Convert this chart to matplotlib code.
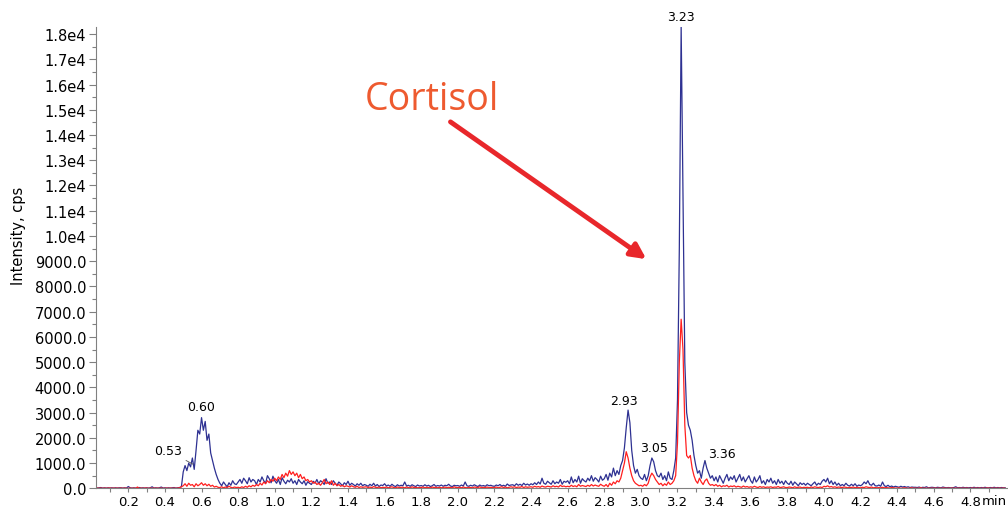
import matplotlib
matplotlib.use('Agg')
import matplotlib.pyplot as plt
import numpy as np

# Retention time grid (min), one reading every 0.01 min
time_start = 0.0
time_step = 0.01

# Blue trace (cps), one row per 0.1 min
blue_cps = [
    20, 10, 20, 10, 20, 30, 10, 20, 10, 20,
    10, 20, 10, 20, 10, 20, 20, 10, 20, 10,
    70, 20, 10, 20, 10, 20, 30, 10, 20, 10,
    20, 10, 20, 60, 10, 20, 10, 20, 50, 10,
    20, 10, 20, 10, 20, 30, 10, 20, 30, 60,
    650, 900, 700, 1000, 850, 1200, 750, 1500, 2300, 2150,
    2800, 2300, 2650, 1900, 2150, 1400, 1100, 800, 550, 350,
    200, 100, 250, 150, 60, 220, 120, 300, 180, 150,
    250, 350, 200, 400, 300, 180, 420, 250, 350, 300,
    150, 350, 250, 450, 300, 200, 500, 380, 220, 480,
    300, 200, 350, 150, 420, 280, 180, 320, 250, 380,
    200, 300, 150, 350, 250, 180, 300, 120, 260, 200,
    150, 280, 200, 350, 180, 300, 250, 150, 380, 200,
    250, 150, 300, 200, 120, 250, 180, 100, 220, 150,
    280, 120, 200, 150, 90, 180, 120, 200, 100, 150,
    120, 80, 160, 100, 200, 90, 150, 70, 130, 110,
    180, 90, 130, 80, 160, 100, 70, 140, 90, 120,
    100, 250, 90, 120, 80, 140, 100, 70, 130, 90,
    110, 80, 140, 90, 120, 70, 100, 150, 80, 110,
    90, 130, 80, 120, 100, 160, 90, 70, 120, 100,
    110, 80, 130, 90, 250, 100, 80, 120, 90, 140,
    100, 70, 130, 90, 110, 80, 140, 100, 120, 90,
    80, 130, 100, 150, 90, 120, 80, 170, 110, 130,
    140, 100, 180, 120, 160, 110, 200, 130, 170, 120,
    180, 140, 220, 150, 250, 170, 400, 200, 160, 280,
    220, 160, 300, 180, 250, 200, 350, 160, 280, 240,
    300, 180, 450, 220, 350, 250, 480, 200, 380, 300,
    250, 400, 300, 500, 280, 420, 350, 250, 480, 320,
    380, 550, 320, 600, 450, 800, 500, 700, 550, 900,
    1100, 1600, 2400, 3100, 2600, 1500, 900, 600, 750, 500,
    400, 350, 550, 300, 500, 900, 1200, 1050, 700, 500,
    450, 600, 350, 500, 300, 650, 400, 350, 700, 1200,
    3500, 9500, 18300, 11500, 5000, 3000, 2500, 2300, 1900, 1300,
    900, 600, 700, 400, 800, 1100, 800, 600, 400, 500,
    300, 450, 250, 500, 350, 200, 400, 550, 300, 450,
    350, 500, 250, 400, 550, 300, 450, 250, 380, 500,
    300, 200, 450, 250, 350, 500, 200, 300, 150, 350,
    250, 400, 200, 300, 150, 350, 200, 280, 150, 300,
    200, 150, 280, 120, 250, 180, 100, 220, 150, 200,
    120, 200, 150, 100, 180, 250, 120, 200, 150, 280,
    350, 250, 400, 180, 300, 150, 250, 120, 200, 100,
    150, 100, 200, 120, 90, 160, 100, 180, 80, 130,
    100, 150, 250, 180, 300, 150, 120, 200, 100, 90,
    130, 80, 250, 100, 70, 120, 60, 90, 50, 80,
    60, 40, 80, 50, 70, 40, 60, 30, 50, 40,
    40, 30, 50, 20, 40, 30, 60, 20, 30, 40,
    30, 20, 40, 30, 20, 50, 30, 20, 30, 20,
    20, 30, 60, 20, 30, 20, 40, 20, 30, 20,
    30, 20, 40, 20, 30, 20, 30, 20, 40, 20,
    20, 30, 20, 40, 20, 30, 20, 30, 20, 20,
]

# Red trace (cps), one row per 0.1 min
red_cps = [
    0, 10, 0, 10, 0, 10, 0, 10, 0, 10,
    10, 0, 10, 0, 10, 0, 10, 0, 10, 0,
    0, 10, 0, 10, 0, 50, 0, 10, 0, 10,
    10, 0, 10, 0, 10, 0, 10, 0, 10, 0,
    0, 10, 0, 10, 0, 10, 0, 10, 20, 60,
    100, 180, 80, 200, 120, 150, 60, 180, 100, 150,
    220, 120, 180, 100, 160, 80, 120, 50, 80, 40,
    30, 60, 20, 50, 30, 80, 40, 20, 50, 30,
    40, 20, 60, 30, 80, 40, 100, 60, 120, 80,
    150, 100, 200, 130, 250, 180, 300, 220, 350, 280,
    400, 300, 450, 350, 550, 420, 600, 480, 700, 550,
    650, 500, 600, 420, 550, 380, 450, 300, 350, 250,
    300, 200, 250, 150, 200, 120, 220, 350, 180, 250,
    150, 300, 120, 200, 100, 150, 80, 120, 60, 100,
    80, 50, 100, 60, 40, 80, 30, 60, 40, 50,
    60, 30, 50, 20, 70, 40, 30, 50, 20, 40,
    30, 50, 20, 40, 60, 30, 20, 50, 30, 40,
    40, 20, 50, 30, 20, 60, 30, 40, 20, 30,
    30, 50, 20, 40, 30, 20, 50, 30, 40, 20,
    40, 20, 30, 50, 20, 40, 30, 20, 60, 30,
    30, 40, 20, 50, 30, 20, 40, 30, 20, 50,
    40, 30, 60, 20, 40, 30, 50, 20, 40, 30,
    30, 50, 20, 40, 60, 30, 50, 20, 40, 60,
    40, 60, 30, 50, 40, 70, 30, 60, 40, 50,
    60, 40, 80, 50, 70, 40, 90, 60, 50, 80,
    70, 50, 100, 60, 80, 50, 120, 70, 90, 60,
    80, 60, 120, 70, 100, 60, 150, 80, 110, 90,
    70, 120, 80, 150, 90, 130, 100, 80, 160, 110,
    80, 150, 60, 200, 120, 250, 180, 300, 250, 400,
    700, 1000, 1450, 1200, 800, 500, 300, 200, 150, 100,
    120, 80, 150, 100, 200, 450, 600, 500, 350, 250,
    150, 200, 100, 180, 120, 250, 150, 200, 300, 500,
    1800, 5000, 6700, 5500, 2500, 1300, 1200, 1300, 800, 500,
    300, 200, 400, 250, 150, 300, 370, 200, 120, 150,
    100, 150, 80, 120, 60, 100, 80, 120, 50, 90,
    70, 100, 50, 80, 60, 40, 90, 50, 70, 40,
    60, 40, 80, 50, 30, 70, 40, 60, 30, 50,
    40, 60, 30, 50, 40, 70, 30, 40, 60, 30,
    30, 50, 40, 20, 60, 30, 40, 50, 20, 40,
    30, 40, 20, 50, 30, 60, 40, 30, 50, 30,
    80, 60, 100, 50, 70, 40, 60, 30, 50, 40,
    30, 50, 40, 20, 40, 30, 50, 20, 40, 30,
    20, 40, 30, 60, 40, 30, 50, 20, 30, 20,
    30, 20, 40, 20, 30, 20, 10, 30, 20, 10,
    10, 20, 0, 10, 20, 10, 0, 10, 20, 0,
    10, 0, 10, 20, 0, 10, 0, 10, 0, 10,
    0, 10, 0, 10, 0, 10, 10, 0, 10, 0,
    10, 0, 10, 0, 10, 0, 10, 0, 10, 0,
    0, 10, 0, 10, 0, 10, 0, 10, 0, 10,
    10, 0, 10, 0, 10, 0, 10, 0, 10, 0,
]

# Peak labels: (text, label x, label y, leader target or None)
peak_labels = [
    ('0.53', 0.417, 1480, (0.555, 950)),
    ('0.60', 0.598, 3230, None),
    ('2.93', 2.909, 3460, None),
    ('3.05', 3.073, 1600, None),
    ('3.36', 3.444, 1360, (3.352, 1050)),
    ('3.23', 3.221, 18700, None),
]

y_ticks = np.arange(0, 18001, 1000)
y_tick_labels = [f'{v / 1e4:.1f}e4' if v >= 10000 else f'{v:.1f}' for v in y_ticks]
x_ticks = np.arange(0.2, 4.81, 0.2)

times = time_start + time_step * np.arange(len(blue_cps))

fig = plt.figure(figsize=(10.08, 5.10), dpi=100)
ax = fig.add_axes([96 / 1008, 1 - 489.3 / 510, 911 / 1008, 461.3 / 510])

ax.plot(times, blue_cps, color='#2e3192', linewidth=0.9)
ax.plot(times, red_cps, color='#ff1f1f', linewidth=0.9)

ax.set_xlim(0.0235, 5.0)
ax.set_ylim(0, 18280)

# Axes styling
for side in ['top', 'right']:
    ax.spines[side].set_visible(False)
for side in ['left', 'bottom']:
    ax.spines[side].set_color('#808080')
    ax.spines[side].set_linewidth(0.8)

ax.set_yticks(y_ticks)
ax.set_yticklabels(y_tick_labels, fontsize=10.5)
ax.set_yticks(np.arange(500, 18001, 1000), minor=True)
ax.set_xticks(x_ticks)
ax.set_xticklabels([f'{v:.1f}' for v in x_ticks], fontsize=9.5)
ax.set_xticks(np.arange(0.1, 5.0, 0.2), minor=True)
ax.tick_params(axis='both', which='both', color='#808080', width=0.8, pad=2)
ax.tick_params(axis='y', which='major', length=5)
ax.tick_params(axis='y', which='minor', length=3)
ax.tick_params(axis='x', which='both', length=3)

ax.set_ylabel('Intensity, cps', fontsize=10.5)
ax.yaxis.set_label_coords(-0.077, 0.55)
ax.text(4.998, -230, 'min', fontsize=9.5, ha='right', va='top', clip_on=False)

# Peak retention time labels
for text, lx, ly, target in peak_labels:
    if target is None:
        ax.text(lx, ly, text, fontsize=9, ha='center', va='center', clip_on=False)
    else:
        ax.annotate(text, xy=target, xytext=(lx, ly), fontsize=9,
                    ha='center', va='center',
                    arrowprops=dict(arrowstyle='-', color='#555555', lw=0.6,
                                    shrinkA=1, shrinkB=0))

# Cortisol callout
ax.text(1.49, 15440, 'Cortisol', fontsize=27, color='#ee5a2f',
        family='Open Sans', ha='left', va='center')
ax.annotate('', xy=(3.03, 9080), xytext=(1.96, 14520),
            arrowprops=dict(arrowstyle='-|>,head_length=0.9,head_width=0.45',
                            color='#e8272b', lw=3.5, shrinkA=0, shrinkB=0))

plt.savefig('out.png', dpi=100)
